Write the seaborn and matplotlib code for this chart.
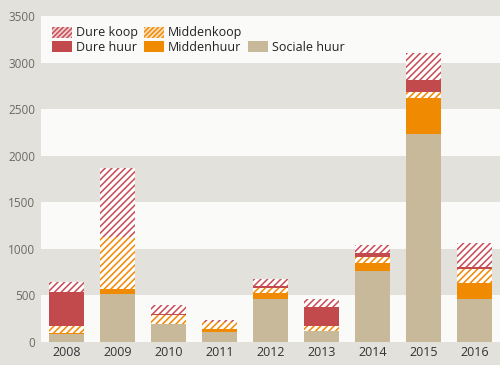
import numpy as np
import pandas as pd
import matplotlib
matplotlib.use("Agg")
import matplotlib.pyplot as plt
from matplotlib.patches import Patch
import seaborn as sns

years = ['2008', '2009', '2010', '2011', '2012', '2013', '2014', '2015', '2016']
sociale_huur = [90, 520, 195, 105, 460, 120, 765, 2235, 460]
middenhuur = [10, 45, 0, 30, 65, 0, 80, 380, 170]
middenkoop = [75, 565, 95, 80, 55, 52, 65, 65, 155]
dure_huur = [360, 0, 15, 0, 18, 200, 43, 130, 18]
dure_koop = [105, 740, 90, 20, 82, 88, 90, 290, 257]
y_ticks = [0, 500, 1000, 1500, 2000, 2500, 3000, 3500]

BG = '#e2e1dc'
BAND = '#fafaf8'
BEIGE = '#c9b99b'
ORANGE = '#f08a00'
RED = '#c24a4d'
RED_HATCH = '#c9505a'
ORANGE_HATCH = '#f28c0a'

sns.set_style('white')
plt.rcParams['font.family'] = ['Open Sans', 'DejaVu Sans']
plt.rcParams['hatch.linewidth'] = 1.15

df = pd.DataFrame({'jaar': years,
                   'sociale': sociale_huur, 'middenhuur': middenhuur,
                   'middenkoop': middenkoop, 'dure_huur': dure_huur,
                   'dure_koop': dure_koop})
order_cols = ['sociale', 'middenhuur', 'middenkoop', 'dure_huur', 'dure_koop']
cum = df[order_cols].cumsum(axis=1)

fig = plt.figure(figsize=(5.0, 3.65), dpi=100, facecolor=BG)
ax = fig.add_axes([0.082, 0.063, 0.918, 0.893])
ax.set_facecolor(BG)
for lo in range(0, 3500, 1000):
    ax.axhspan(lo, lo + 500, color=BAND, zorder=0, lw=0)

styles = [
    ('dure_koop', 'white', RED_HATCH, '/////'),
    ('dure_huur', RED, RED, None),
    ('middenkoop', 'white', ORANGE_HATCH, '/////'),
    ('middenhuur', ORANGE, ORANGE, None),
    ('sociale', BEIGE, BEIGE, None),
]
for col, fc, ec, hatch in styles:
    d = pd.DataFrame({'jaar': years, 'v': cum[col].values})
    sns.barplot(data=d, x='jaar', y='v', order=years, color=fc, width=0.69,
                ax=ax, zorder=2)
    for p in ax.containers[-1]:
        p.set_facecolor(fc)
        p.set_edgecolor(ec)
        p.set_linewidth(0)
        if hatch:
            p.set_hatch(hatch)

ax.set_xlim(-0.5, 8.5)
ax.set_ylim(0, 3500)
ax.set_yticks(y_ticks)
ax.set_yticklabels([str(t) for t in y_ticks])
ax.set_xlabel('')
ax.set_ylabel('')
for s in ax.spines.values():
    s.set_visible(False)
ax.tick_params(axis='both', length=0)
ax.tick_params(axis='y', labelsize=8.5, labelcolor='#6b6a66', pad=4)
ax.tick_params(axis='x', labelsize=9, labelcolor='#333333', pad=3)

handles = [
    Patch(facecolor='#f1d2d2', edgecolor=RED_HATCH, hatch='///////', lw=0, label='Dure koop'),
    Patch(facecolor=RED, edgecolor=RED, lw=0, label='Dure huur'),
    Patch(facecolor='#fbe1c0', edgecolor=ORANGE_HATCH, hatch='///////', lw=0, label='Middenkoop'),
    Patch(facecolor=ORANGE, edgecolor=ORANGE, lw=0, label='Middenhuur'),
    Patch(facecolor='none', edgecolor='none', lw=0, label=''),
    Patch(facecolor=BEIGE, edgecolor=BEIGE, lw=0, label='Sociale huur'),
]
leg = ax.legend(handles=handles, ncol=3, loc='upper left',
                bbox_to_anchor=(0.005, 0.995), frameon=False,
                fontsize=9, handlelength=1.6, handleheight=1.0,
                handletextpad=0.3, columnspacing=0.5, labelspacing=0.1,
                borderaxespad=0.3)
for t in leg.get_texts():
    t.set_color('#222222')

fig.savefig('out.png', dpi=100, facecolor=BG)
